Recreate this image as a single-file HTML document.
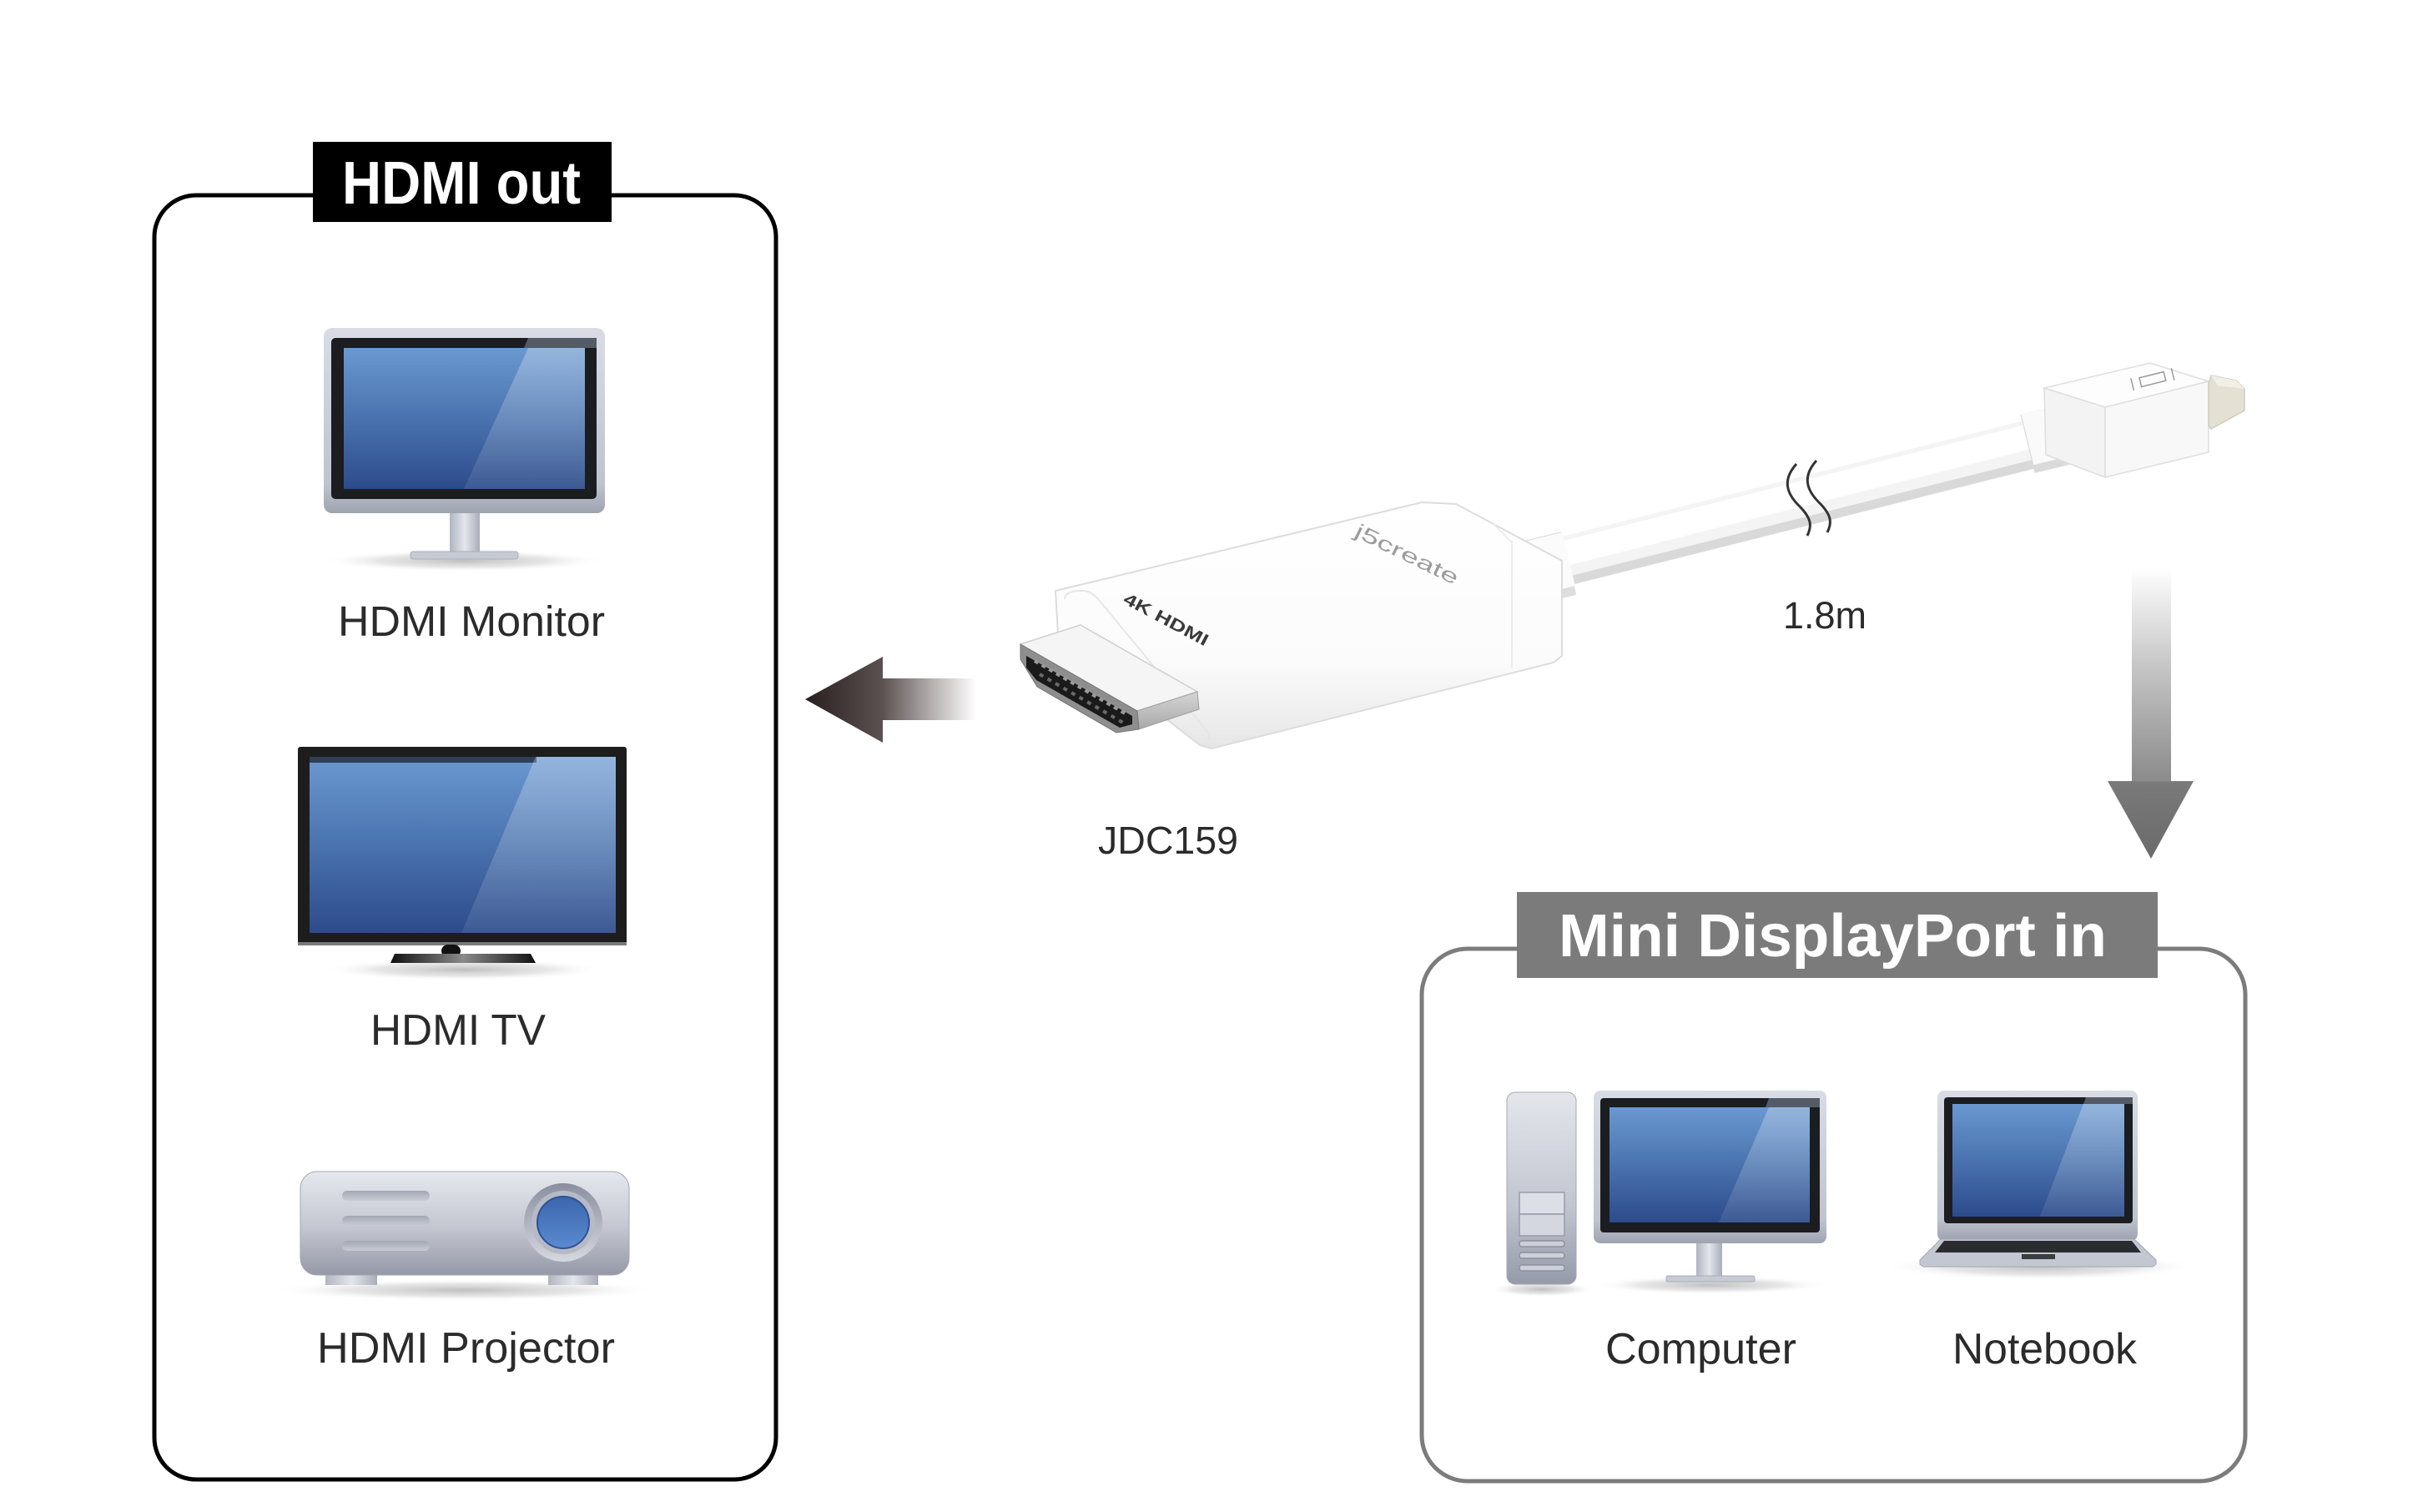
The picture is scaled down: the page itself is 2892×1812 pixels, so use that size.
<!DOCTYPE html>
<html>
<head>
<meta charset="utf-8">
<style>
  html,body{margin:0;padding:0;background:#fff;}
  svg{display:block;}
  text{font-family:"Liberation Sans", Arial, sans-serif;}
</style>
</head>
<body>
<svg width="2892" height="1812" viewBox="0 0 2892 1812" xmlns="http://www.w3.org/2000/svg">
  <defs>
    <linearGradient id="scr" x1="0" y1="0" x2="0" y2="1">
      <stop offset="0" stop-color="#6a98d0"/>
      <stop offset="0.45" stop-color="#4d77b2"/>
      <stop offset="1" stop-color="#2d4b8b"/>
    </linearGradient>
    <linearGradient id="gloss" x1="0" y1="0" x2="0" y2="1">
      <stop offset="0" stop-color="#ffffff" stop-opacity="0.28"/>
      <stop offset="1" stop-color="#ffffff" stop-opacity="0.08"/>
    </linearGradient>
    <linearGradient id="silver" x1="0" y1="0" x2="0" y2="1">
      <stop offset="0" stop-color="#d9dce5"/>
      <stop offset="0.85" stop-color="#bfc3ce"/>
      <stop offset="1" stop-color="#9ea3b0"/>
    </linearGradient>
    <linearGradient id="silverH" x1="0" y1="0" x2="1" y2="0">
      <stop offset="0" stop-color="#b0b4c0"/>
      <stop offset="0.5" stop-color="#e3e6ec"/>
      <stop offset="1" stop-color="#a9adb9"/>
    </linearGradient>
    <linearGradient id="tower" x1="0" y1="0" x2="0" y2="1">
      <stop offset="0" stop-color="#e4e6ec"/>
      <stop offset="0.6" stop-color="#c1c5cf"/>
      <stop offset="1" stop-color="#959aa8"/>
    </linearGradient>
    <linearGradient id="proj" x1="0" y1="0" x2="0" y2="1">
      <stop offset="0" stop-color="#e6e8ee"/>
      <stop offset="0.55" stop-color="#c3c6d0"/>
      <stop offset="1" stop-color="#9599a7"/>
    </linearGradient>
    <linearGradient id="vent" x1="0" y1="0" x2="0" y2="1">
      <stop offset="0" stop-color="#a4a8b4"/>
      <stop offset="1" stop-color="#c8cbd4"/>
    </linearGradient>
    <linearGradient id="lensR" x1="0" y1="0" x2="0" y2="1">
      <stop offset="0" stop-color="#8a8fa0"/>
      <stop offset="1" stop-color="#d5d8df"/>
    </linearGradient>
    <linearGradient id="lensB" x1="0" y1="0" x2="0" y2="1">
      <stop offset="0" stop-color="#3b66ad"/>
      <stop offset="1" stop-color="#5a8ad0"/>
    </linearGradient>
    <linearGradient id="tvbase" x1="0" y1="0" x2="1" y2="0">
      <stop offset="0" stop-color="#111"/>
      <stop offset="0.5" stop-color="#8a8a8a"/>
      <stop offset="1" stop-color="#111"/>
    </linearGradient>
    <radialGradient id="shadow" cx="0.5" cy="0.5" r="0.5">
      <stop offset="0" stop-color="#b8b8b8" stop-opacity="0.9"/>
      <stop offset="0.6" stop-color="#d6d6d6" stop-opacity="0.6"/>
      <stop offset="1" stop-color="#ffffff" stop-opacity="0"/>
    </radialGradient>
    <linearGradient id="larrow" gradientUnits="userSpaceOnUse" x1="965" y1="0" x2="1170" y2="0">
      <stop offset="0" stop-color="#2a1f1f"/>
      <stop offset="0.45" stop-color="#5b5151"/>
      <stop offset="0.75" stop-color="#b8b2b2"/>
      <stop offset="1" stop-color="#ffffff"/>
    </linearGradient>
    <linearGradient id="darrow" gradientUnits="userSpaceOnUse" x1="0" y1="680" x2="0" y2="1030">
      <stop offset="0" stop-color="#ffffff"/>
      <stop offset="0.35" stop-color="#c4c4c4"/>
      <stop offset="0.73" stop-color="#8b8b8b"/>
      <stop offset="0.735" stop-color="#7a7a7a"/>
      <stop offset="1" stop-color="#6a6a6a"/>
    </linearGradient>
    <linearGradient id="bodyG" x1="0" y1="0" x2="0" y2="1">
      <stop offset="0" stop-color="#ffffff"/>
      <stop offset="0.65" stop-color="#fbfbfb"/>
      <stop offset="1" stop-color="#e6e6e6"/>
    </linearGradient>
    <linearGradient id="metalSide" x1="0" y1="0" x2="0" y2="1">
      <stop offset="0" stop-color="#d6d6d6"/>
      <stop offset="1" stop-color="#a8a8a8"/>
    </linearGradient>
  </defs>

  <!-- ============ LEFT BOX ============ -->
  <rect x="185" y="234" width="745" height="1539" rx="50" ry="50" fill="none" stroke="#000" stroke-width="5"/>
  <rect x="375" y="170" width="358" height="96" fill="#000"/>
  <text x="410" y="244" font-size="72" font-weight="bold" fill="#fff" textLength="286" lengthAdjust="spacingAndGlyphs">HDMI out</text>

  <!-- Monitor -->
  <ellipse cx="555" cy="672" rx="172" ry="13" fill="url(#shadow)"/>
  <rect x="539" y="612" width="36" height="52" fill="url(#silverH)"/>
  <rect x="492" y="661" width="129" height="9" rx="3" fill="#c6cad4" stroke="#a8adb9" stroke-width="1"/>
  <rect x="388" y="393" width="337" height="222" rx="10" fill="url(#silver)"/>
  <rect x="397" y="405" width="318" height="193" rx="5" fill="#1b1d21"/>
  <polygon points="633,405 715,405 715,417 628,417" fill="#555b66"/>
  <rect x="412" y="417" width="289" height="169" fill="url(#scr)"/>
  <polygon points="633,417 701,417 701,586 556,586" fill="url(#gloss)"/>
  <text x="405" y="762" font-size="51" fill="#2b2b2b" textLength="320" lengthAdjust="spacingAndGlyphs">HDMI Monitor</text>

  <!-- TV -->
  <ellipse cx="555" cy="1162" rx="170" ry="13" fill="url(#shadow)"/>
  <rect x="357" y="895" width="394" height="238" rx="3" fill="#1d1d1d"/>
  <rect x="357" y="1129" width="394" height="4" fill="#7a7a7a"/>
  <rect x="371" y="907" width="367" height="211" fill="url(#scr)"/>
  <rect x="371" y="907" width="272" height="7" fill="#151a22" opacity="0.7"/>
  <polygon points="642,907 738,907 738,1118 553,1118" fill="url(#gloss)"/>
  <rect x="529" y="1132" width="23" height="15" rx="8" fill="#111"/>
  <polygon points="473,1143 636,1143 642,1154 468,1154" fill="url(#tvbase)"/>
  <text x="444" y="1252" font-size="52" fill="#2b2b2b" textLength="210" lengthAdjust="spacingAndGlyphs">HDMI TV</text>

  <!-- Projector -->
  <ellipse cx="557" cy="1546" rx="232" ry="13" fill="url(#shadow)"/>
  <rect x="390" y="1524" width="62" height="16" fill="url(#silverH)"/>
  <rect x="657" y="1524" width="60" height="16" fill="url(#silverH)"/>
  <rect x="360" y="1404" width="394" height="124" rx="20" fill="url(#proj)" stroke="#a3a7b3" stroke-width="1"/>
  <rect x="410" y="1427" width="105" height="12" rx="6" fill="url(#vent)"/>
  <rect x="410" y="1457" width="105" height="12" rx="6" fill="url(#vent)"/>
  <rect x="410" y="1487" width="105" height="12" rx="6" fill="url(#vent)"/>
  <circle cx="675" cy="1465" r="47" fill="url(#lensR)"/>
  <circle cx="675" cy="1465" r="38" fill="#b6bac6"/>
  <circle cx="675" cy="1465" r="31" fill="url(#lensB)" stroke="#2f5292" stroke-width="2"/>
  <text x="380" y="1633" font-size="52" fill="#2b2b2b" textLength="357" lengthAdjust="spacingAndGlyphs">HDMI Projector</text>

  <!-- ============ LEFT ARROW ============ -->
  <polygon points="965,838 1058,787 1058,813 1168,813 1168,863 1058,863 1058,890" fill="url(#larrow)"/>

  <!-- ============ CABLE ============ -->
  <line x1="1800" y1="692" x2="2445" y2="530" stroke="#d9d9d9" stroke-width="58" stroke-linecap="round"/>
  <line x1="1800" y1="686" x2="2445" y2="524" stroke="#f4f4f4" stroke-width="48" stroke-linecap="round"/>
  <line x1="1800" y1="682" x2="2445" y2="520" stroke="#ffffff" stroke-width="30" stroke-linecap="round"/>
  <!-- strain relief near body -->
  <line x1="1835" y1="686" x2="1880" y2="675" stroke="#dedede" stroke-width="78" stroke-linecap="butt"/>
  <line x1="1835" y1="681" x2="1880" y2="670" stroke="#fbfbfb" stroke-width="66" stroke-linecap="butt"/>
  <!-- collar near mini DP -->
  <line x1="2430" y1="532" x2="2475" y2="521" stroke="#dadada" stroke-width="72" stroke-linecap="butt"/>
  <line x1="2430" y1="527" x2="2475" y2="516" stroke="#fafafa" stroke-width="62" stroke-linecap="butt"/>

  <!-- break mark -->
  <path d="M2153 556 C2136 575 2141 591 2156 606 S2172 630 2166 642" fill="none" stroke="#333" stroke-width="3"/>
  <path d="M2177 552 C2160 571 2165 587 2180 602 S2196 626 2190 638" fill="none" stroke="#333" stroke-width="3"/>

  <!-- Mini DP boot -->
  <polygon points="2450,465 2577,435 2647,457 2523,488" fill="#fdfdfd" stroke="#dedede" stroke-width="1.5"/>
  <polygon points="2450,465 2523,488 2523,572 2452,545" fill="#f3f3f3" stroke="#dedede" stroke-width="1.5"/>
  <polygon points="2523,488 2647,457 2647,542 2523,572" fill="#f8f8f8" stroke="#dedede" stroke-width="1.5"/>
  <g transform="rotate(-14 2580 455)" fill="none" stroke="#9a9a9a" stroke-width="1.5">
    <rect x="2565" y="449" width="30" height="11"/>
    <line x1="2555" y1="447" x2="2555" y2="462"/>
    <line x1="2605" y1="447" x2="2605" y2="462"/>
  </g>
  <!-- Mini DP metal tip -->
  <polygon points="2647,460 2650,450 2680,456 2690,466 2690,492 2650,514 2647,510" fill="#e4e1d4" stroke="#cfccbf" stroke-width="1.5"/>
  <polygon points="2650,450 2680,456 2690,466 2658,462" fill="#f2f0e6"/>

  <!-- ============ ADAPTER BODY ============ -->
  <polygon points="1265,708 1704,602 1745,604 1790,628 1872,672 1872,786 1862,794 1452,897 1438,893 1268,760"
           fill="url(#bodyG)" stroke="#dcdcdc" stroke-width="2"/>
  <path d="M1276,718 Q1276,710 1290,708 L1300,708 Q1310,710 1318,720 L1448,878 Q1452,888 1444,886" fill="none" stroke="#e6e6e6" stroke-width="2"/>
  <path d="M1790,628 L1812,650 L1812,800" fill="none" stroke="#ececec" stroke-width="2"/>
  <text x="1345" y="722" transform="rotate(28 1345 722)" font-size="20" font-weight="bold" fill="#3a3a3a" textLength="112" lengthAdjust="spacingAndGlyphs">4K HDMI</text>
  <text x="1622" y="642" transform="rotate(26 1622 642)" font-size="24" fill="#9c9c9c" textLength="135" lengthAdjust="spacingAndGlyphs">j5create</text>

  <!-- HDMI plug -->
  <polygon points="1223,772 1295,749 1435,829 1363,852" fill="#f5f5f5" stroke="#cfcfcf" stroke-width="1.5"/>
  <polygon points="1363,852 1435,829 1437,850 1365,874" fill="url(#metalSide)" stroke="#a0a0a0" stroke-width="1"/>
  <polygon points="1223,772 1363,852 1365,874 1338,878 1243,823 1223,790" fill="#8e8e8e" stroke="#777" stroke-width="1"/>
  <polygon points="1230,786 1357,858 1357,868 1342,872 1242,815 1230,800" fill="#1a1a1a"/>
  <line x1="1240" y1="792" x2="1350" y2="856" stroke="#9a9a9a" stroke-width="4" stroke-dasharray="5 5"/>
  <line x1="1246" y1="808" x2="1346" y2="866" stroke="#6a6a6a" stroke-width="4" stroke-dasharray="5 6"/>

  <text x="1316" y="1023" font-size="46" fill="#2b2b2b" textLength="168" lengthAdjust="spacingAndGlyphs">JDC159</text>
  <text x="2137" y="753" font-size="45" fill="#2b2b2b" textLength="100" lengthAdjust="spacingAndGlyphs">1.8m</text>

  <!-- ============ DOWN ARROW ============ -->
  <polygon points="2555,680 2602,680 2602,936 2629,936 2578,1029 2526,936 2555,936" fill="url(#darrow)"/>

  <!-- ============ RIGHT BOX ============ -->
  <rect x="1704" y="1137" width="987" height="638" rx="55" ry="55" fill="none" stroke="#7c7c7c" stroke-width="5"/>
  <rect x="1818" y="1069" width="768" height="103" fill="#7b7b7b"/>
  <text x="1868" y="1146" font-size="72" font-weight="bold" fill="#fff" textLength="657" lengthAdjust="spacingAndGlyphs">Mini DisplayPort in</text>

  <!-- Computer tower -->
  <ellipse cx="1848" cy="1545" rx="62" ry="9" fill="url(#shadow)"/>
  <rect x="1806" y="1309" width="83" height="230" rx="10" fill="url(#tower)" stroke="#a4a8b4" stroke-width="1"/>
  <rect x="1821" y="1429" width="54" height="26" fill="#dcdfe6" stroke="#989ca9" stroke-width="1.5"/>
  <rect x="1821" y="1455" width="54" height="26" fill="#d4d7df" stroke="#989ca9" stroke-width="1.5"/>
  <rect x="1821" y="1487" width="54" height="7" rx="3" fill="#cdd0d8" stroke="#8b90a0" stroke-width="1.5"/>
  <rect x="1821" y="1501" width="54" height="7" rx="3" fill="#cdd0d8" stroke="#8b90a0" stroke-width="1.5"/>
  <rect x="1821" y="1516" width="54" height="7" rx="3" fill="#cdd0d8" stroke="#8b90a0" stroke-width="1.5"/>

  <!-- Computer monitor -->
  <ellipse cx="2050" cy="1540" rx="142" ry="11" fill="url(#shadow)"/>
  <rect x="2033" y="1486" width="31" height="46" fill="url(#silverH)"/>
  <rect x="1997" y="1529" width="106" height="7" rx="2" fill="#c6cad4" stroke="#a8adb9" stroke-width="1"/>
  <rect x="1910" y="1307" width="279" height="183" rx="8" fill="url(#silver)"/>
  <rect x="1918" y="1316" width="263" height="161" rx="4" fill="#1b1d21"/>
  <polygon points="2120,1316 2181,1316 2181,1327 2116,1327" fill="#555b66"/>
  <rect x="1929" y="1327" width="240" height="138" fill="url(#scr)"/>
  <polygon points="2120,1327 2169,1327 2169,1465 2060,1465" fill="url(#gloss)"/>

  <!-- Notebook -->
  <ellipse cx="2445" cy="1518" rx="188" ry="16" fill="url(#shadow)"/>
  <rect x="2322" y="1307" width="240" height="180" rx="8" fill="url(#silver)"/>
  <rect x="2330" y="1315" width="226" height="151" rx="4" fill="#1b1d21"/>
  <polygon points="2500,1315 2556,1315 2556,1323 2497,1323" fill="#555b66"/>
  <rect x="2340" y="1323" width="206" height="135" fill="url(#scr)"/>
  <polygon points="2497,1323 2546,1323 2546,1458 2445,1458" fill="url(#gloss)"/>
  <polygon points="2326,1485 2558,1485 2584,1510 2584,1515 2580,1518 2305,1518 2301,1515 2301,1510" fill="#c3c7d1" stroke="#a2a6b2" stroke-width="1"/>
  <polygon points="2330,1487 2555,1487 2566,1501 2319,1501" fill="#2a2c30"/>
  <rect x="2423" y="1503" width="40" height="6" fill="#3a3c40"/>

  <text x="1924" y="1634" font-size="52" fill="#2b2b2b" textLength="229" lengthAdjust="spacingAndGlyphs">Computer</text>
  <text x="2340" y="1634" font-size="52" fill="#2b2b2b" textLength="221" lengthAdjust="spacingAndGlyphs">Notebook</text>
</svg>
</body>
</html>
